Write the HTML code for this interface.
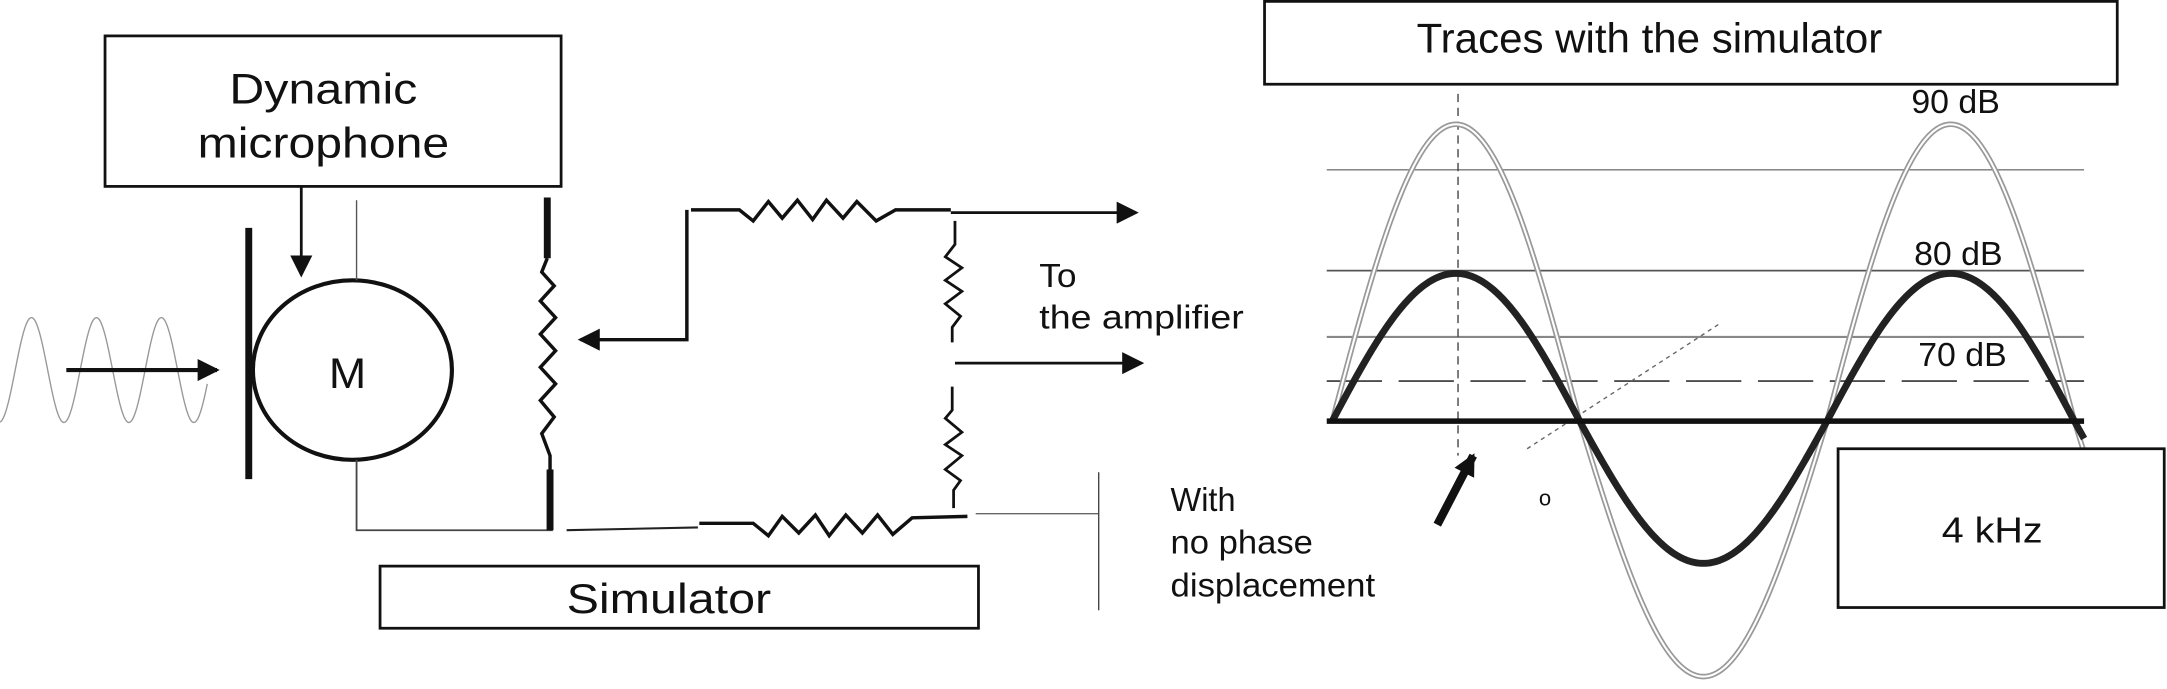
<!DOCTYPE html>
<html><head><meta charset="utf-8"><style>
html,body{margin:0;padding:0;background:#fff;}
svg{display:block;}
text{font-family:"Liberation Sans",sans-serif;fill:#111;}
</style></head><body>
<svg width="2167" height="689" viewBox="0 0 1568 499" preserveAspectRatio="none" xmlns="http://www.w3.org/2000/svg">
<defs>
<marker id="ahb" markerWidth="16" markerHeight="16" refX="14" refY="8" orient="auto" markerUnits="userSpaceOnUse" viewBox="0 0 16 16">
<path d="M0,0 L16,8 L0,16 Z" fill="#111"/></marker>
</defs>
<rect width="1568" height="499" fill="#fff"/>
<rect x="76" y="26" width="330" height="109" fill="#fff" stroke="#111" stroke-width="2"/>
<text x="166" y="75" font-size="31" textLength="136" lengthAdjust="spacingAndGlyphs">Dynamic</text>
<text x="143" y="114" font-size="31" textLength="182" lengthAdjust="spacingAndGlyphs">microphone</text>
<line x1="218" y1="135" x2="218" y2="199" stroke="#111" stroke-width="2" marker-end="url(#ahb)"/>
<path id="lsine" fill="none" stroke="#999" stroke-width="1"/>
<line x1="48" y1="268" x2="157" y2="268" stroke="#111" stroke-width="3" marker-end="url(#ahb)"/>
<line x1="180" y1="165" x2="180" y2="347" stroke="#111" stroke-width="5"/>
<ellipse cx="255" cy="268" rx="72" ry="65" fill="none" stroke="#111" stroke-width="3"/>
<text x="238" y="281" font-size="31" textLength="27" lengthAdjust="spacingAndGlyphs">M</text>
<line x1="258" y1="145" x2="258" y2="203" stroke="#555" stroke-width="1"/>
<polyline points="258,333 258,384 400,384" fill="none" stroke="#444" stroke-width="1.3"/>
<line x1="396" y1="143" x2="396" y2="187" stroke="#111" stroke-width="5"/>
<polyline points="396,187 392,197 401,207 391,218 402,230 391,242 402,254 391,266 402,278 391,290 401,302 392,314 398,330 398,340" fill="none" stroke="#111" stroke-width="2.5"/>
<line x1="398" y1="340" x2="398" y2="384" stroke="#111" stroke-width="5"/>
<polyline points="497,152 497,246 420,246" fill="none" stroke="#111" stroke-width="2.5" marker-end="url(#ahb)"/>
<polyline points="500,152 535,152 545,160 556,146 566,158 577,145 588,159 598,145 610,158 620,146 634,160 648,152 688,152" fill="none" stroke="#111" stroke-width="2.5"/>
<line x1="688" y1="154" x2="822" y2="154" stroke="#111" stroke-width="2" marker-end="url(#ahb)"/>
<polyline points="691,160 691,177 684,186 696,194 684,203 696,211 684,220 695,229 689,237 689,248" fill="none" stroke="#111" stroke-width="2"/>
<line x1="691" y1="263" x2="826" y2="263" stroke="#111" stroke-width="2" marker-end="url(#ahb)"/>
<polyline points="689,280 689,297 684,303 696,313 684,322 696,330 684,340 695,348 690,355 690,368" fill="none" stroke="#111" stroke-width="2"/>
<polyline points="410,384 505,382" fill="none" stroke="#222" stroke-width="1.5"/>
<polyline points="506,379 545,379 556,388 566,374 578,386 590,373 600,388 612,373 624,386 635,373 646,387 660,375 700,374" fill="none" stroke="#111" stroke-width="2.5"/>
<line x1="706" y1="372" x2="795" y2="372" stroke="#666" stroke-width="1"/>
<line x1="795" y1="342" x2="795" y2="442" stroke="#444" stroke-width="1"/>
<text x="752" y="208" font-size="24" textLength="27" lengthAdjust="spacingAndGlyphs">To</text>
<text x="752" y="238" font-size="24" textLength="148" lengthAdjust="spacingAndGlyphs">the amplifier</text>
<rect x="275" y="410" width="433" height="45" fill="#fff" stroke="#111" stroke-width="2"/>
<text x="410" y="444" font-size="30" textLength="148" lengthAdjust="spacingAndGlyphs">Simulator</text>
<text x="847" y="370" font-size="24" textLength="47" lengthAdjust="spacingAndGlyphs">With</text>
<text x="847" y="401" font-size="24" textLength="103" lengthAdjust="spacingAndGlyphs">no phase</text>
<text x="847" y="432" font-size="24" textLength="148" lengthAdjust="spacingAndGlyphs">displacement</text>
<rect x="915" y="1" width="617" height="60" fill="#fff" stroke="#111" stroke-width="2"/>
<text x="1025" y="38" font-size="30" textLength="337" lengthAdjust="spacingAndGlyphs">Traces with the simulator</text>
<line x1="960" y1="123" x2="1508" y2="123" stroke="#777" stroke-width="1"/>
<line x1="960" y1="196" x2="1508" y2="196" stroke="#555" stroke-width="1.2"/>
<line x1="960" y1="244" x2="1508" y2="244" stroke="#888" stroke-width="1.5"/>
<line x1="960" y1="276" x2="1508" y2="276" stroke="#333" stroke-width="1.2" stroke-dasharray="40,12"/>
<line x1="1055" y1="68" x2="1055" y2="330" stroke="#444" stroke-width="1" stroke-dasharray="6,4"/>
<line x1="1105" y1="325" x2="1245" y2="234" stroke="#666" stroke-width="1" stroke-dasharray="3,3"/>
<path id="s90a" fill="none" stroke="#999" stroke-width="4"/>
<path id="s90b" fill="none" stroke="#fff" stroke-width="1.5"/>
<path id="s80" fill="none" stroke="#222" stroke-width="5"/>
<line x1="960" y1="305" x2="1508" y2="305" stroke="#111" stroke-width="4"/>
<line x1="1040" y1="380" x2="1066" y2="330" stroke="#111" stroke-width="6" marker-end="url(#ahb)"/>
<text x="1118" y="366" font-size="16" text-anchor="middle">o</text>
<text x="1383" y="82" font-size="24" textLength="64" lengthAdjust="spacingAndGlyphs">90 dB</text>
<text x="1385" y="192" font-size="24" textLength="64" lengthAdjust="spacingAndGlyphs">80 dB</text>
<text x="1388" y="265" font-size="24" textLength="64" lengthAdjust="spacingAndGlyphs">70 dB</text>
<rect x="1330" y="325" width="236" height="115" fill="#fff" stroke="#111" stroke-width="2"/>
<text x="1405" y="393" font-size="26" textLength="73" lengthAdjust="spacingAndGlyphs">4 kHz</text>
<script>
function sine(x0,x1,phase0,period,cy,up,down){
 var d="";for(var x=x0;x<=x1;x+=1){var s=Math.sin(2*Math.PI*(x-phase0)/period);var y=cy-(s>0?up:down)*s;d+=(x==x0?"M":"L")+x+","+y.toFixed(2);}return d;}
document.getElementById("lsine").setAttribute("d",sine(0,150,11,47,268,38,38));
var a=sine(964,1508,964,358,305,215,185);
document.getElementById("s90a").setAttribute("d",a);
document.getElementById("s90b").setAttribute("d",a);
document.getElementById("s80").setAttribute("d",sine(964,1508,964,358,305,107,103));
</script>
</svg>
</body></html>
